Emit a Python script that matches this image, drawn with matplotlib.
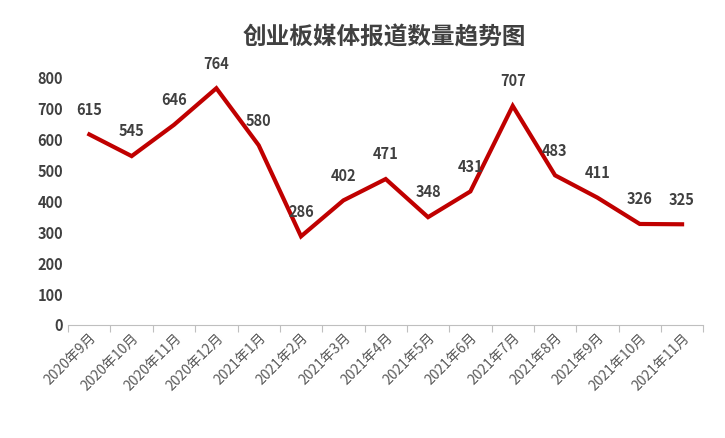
import matplotlib
matplotlib.use("Agg")
import matplotlib.pyplot as plt

plt.rcParams['font.family'] = ['Noto Sans CJK SC', 'DejaVu Sans']

months = ["2020年9月","2020年10月","2020年11月","2020年12月","2021年1月","2021年2月","2021年3月",
          "2021年4月","2021年5月","2021年6月","2021年7月","2021年8月","2021年9月","2021年10月","2021年11月"]
counts = [615, 545, 646, 764, 580, 286, 402, 471, 348, 431, 707, 483, 411, 326, 325]

fig = plt.figure(figsize=(7.25, 4.38), dpi=100)
ax = fig.add_axes([0.094, 0.258, 0.876, 0.566])
x = list(range(len(months)))
ax.plot(x, counts, color='#C00000', lw=3, solid_joinstyle='miter')
for xi, v in zip(x, counts):
    ax.annotate(str(v), (xi, v), xytext=(0, 12), textcoords='offset points',
                ha='center', va='bottom', fontsize=10.5, fontweight='bold', color='#404040')
ax.set_xlim(-0.5, len(months) - 0.5)
ax.set_ylim(0, 800)
ax.set_yticks(range(0, 801, 100))
ax.set_xticks([i - 0.5 for i in range(len(months) + 1)], minor=False)
ax.set_xticklabels([])
ax.set_xticks(x, minor=True)
ax.set_xticklabels(months, minor=True, rotation=45, ha='right', rotation_mode='anchor',
                   fontsize=10, color='#595959')
ax.tick_params(axis='x', which='minor', length=0, pad=4)
ax.tick_params(axis='x', which='major', length=5, color='#BFBFBF', direction='out')
ax.tick_params(axis='y', length=0, labelsize=10.5, labelcolor='#404040')
for t in ax.get_yticklabels():
    t.set_fontweight('bold')
for s in ['top', 'right', 'left']:
    ax.spines[s].set_visible(False)
ax.spines['bottom'].set_color('#BFBFBF')
fig.text(0.53, 0.915, "创业板媒体报道数量趋势图", ha='center', va='center',
         fontsize=17, fontweight='bold', color='#404040')
fig.savefig('out.png', dpi=100)
